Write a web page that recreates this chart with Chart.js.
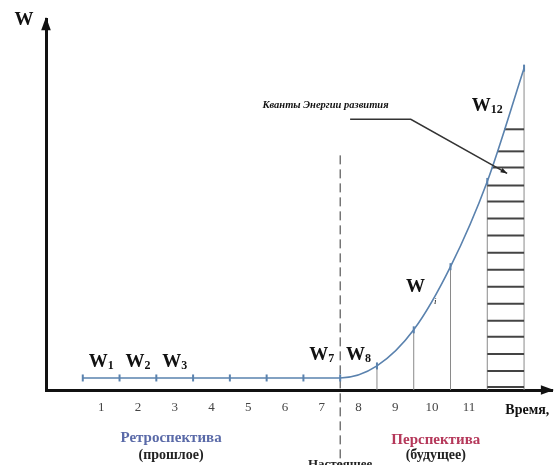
<!DOCTYPE html>
<html>
<head>
<meta charset="utf-8">
<script src="https://cdn.jsdelivr.net/npm/chart.js@4.4.0/dist/chart.umd.min.js"></script>
<style>
body{margin:0;background:#fff;}
</style>
</head>
<body>
<canvas id="graph" width="558" height="465"></canvas>
<script>
// time steps (points W1..W13), energy level
const steps = [0,1,2,3,4,5,6,7,8,9,10,11,12];
const energy = [1.2,1.2,1.2,1.2,1.2,1.2,1.2,1.2,2.4,6.0,12.3,20.8,32.1];
const tickLabels = ['1','2','3','4','5','6','7','8','9','10','11'];
// thin drop lines from these points to the axis
const dropSteps = [8,9,10,11,12];
// levels of the "energy quanta" hatch
const quanta = [0.3,1.9,3.6,5.3,6.9,8.6,10.3,12.0,13.7,15.4,17.1,18.8,20.4,22.2,23.8,26.0];

const serif = '"Liberation Serif", "Times New Roman", serif';
const blue = '#5a82ae';

function arrow(ctx, x1, y1, x2, y2, size){
    const a = Math.atan2(y2-y1, x2-x1);
    ctx.beginPath();
    ctx.moveTo(x2, y2);
    ctx.lineTo(x2 - size*Math.cos(a-0.35), y2 - size*Math.sin(a-0.35));
    ctx.lineTo(x2 - size*Math.cos(a+0.35), y2 - size*Math.sin(a+0.35));
    ctx.closePath();
    ctx.fill();
}

function drawW(ctx, sub, cx, cy){
    ctx.font = 'bold 19px ' + serif;
    const w = ctx.measureText('W').width;
    ctx.font = 'bold 12px ' + serif;
    const s = sub ? ctx.measureText(sub).width : 0;
    const left = cx - (w + s)/2;
    ctx.textAlign = 'left';
    ctx.textBaseline = 'middle';
    ctx.fillStyle = '#111';
    ctx.font = 'bold 19px ' + serif;
    ctx.fillText('W', left, cy);
    if (sub){
        ctx.font = 'bold 12px ' + serif;
        ctx.fillText(sub, left + w, cy + 4);
    }
}

const extras = {
    id: 'extras',
    beforeDatasetsDraw(chart){
        const ctx = chart.ctx;
        const X = v => chart.scales.x.getPixelForValue(v);
        const Y = v => chart.scales.y.getPixelForValue(v);
        ctx.save();
        // drop lines
        ctx.strokeStyle = '#8a8a8a';
        ctx.lineWidth = 1;
        dropSteps.forEach(i => {
            ctx.beginPath();
            ctx.moveTo(X(steps[i]), Y(energy[i]));
            ctx.lineTo(X(steps[i]), Y(0));
            ctx.stroke();
        });
        // hatch of quanta between steps 11 and 12
        const x11 = X(steps[11]), y11 = Y(energy[11]);
        const x12 = X(steps[12]), y12 = Y(energy[12]);
        ctx.strokeStyle = '#444';
        ctx.lineWidth = 2;
        quanta.forEach(q => {
            const y = Y(q);
            let xl = x11;
            if (y < y11) xl = x11 + (x12 - x11) * (y11 - y) / (y11 - y12);
            ctx.beginPath();
            ctx.moveTo(xl, y);
            ctx.lineTo(x12, y);
            ctx.stroke();
        });
        // the "present" dashed line
        ctx.strokeStyle = '#333';
        ctx.lineWidth = 1;
        ctx.setLineDash([9,5]);
        ctx.beginPath();
        ctx.moveTo(X(7), Y(23.4));
        ctx.lineTo(X(7), chart.height);
        ctx.stroke();
        ctx.restore();
    },
    afterDraw(chart){
        const ctx = chart.ctx;
        const X = v => chart.scales.x.getPixelForValue(v);
        const Y = v => chart.scales.y.getPixelForValue(v);
        const a = chart.chartArea;
        ctx.save();
        ctx.fillStyle = '#111';
        // axis arrows
        arrow(ctx, a.left, a.top + 20, a.left, a.top - 2, 14);
        arrow(ctx, a.right - 20, a.bottom, a.right + 2, a.bottom, 14);

        // leader for the quanta caption
        ctx.strokeStyle = '#333';
        ctx.lineWidth = 1.5;
        ctx.beginPath();
        ctx.moveTo(X(7.27), Y(27.0));
        ctx.lineTo(X(8.92), Y(27.0));
        ctx.lineTo(X(11.54), Y(21.6));
        ctx.stroke();
        ctx.fillStyle = '#222';
        arrow(ctx, X(11.1), Y(22.5), X(11.54), Y(21.6), 7);

        ctx.fillStyle = '#111';
        ctx.font = 'italic bold 10.5px ' + serif;
        ctx.textAlign = 'center';
        ctx.textBaseline = 'middle';
        ctx.fillText('Кванты Энергии развития', X(6.6), Y(28.4));

        // axis names
        ctx.font = 'bold 19px ' + serif;
        ctx.fillText('W', X(-1.6), Y(36.9));
        ctx.font = 'bold 14px ' + serif;
        ctx.textAlign = 'left';
        ctx.fillText('Время,', X(11.49), Y(-2.0));

        // point captions
        drawW(ctx, '1', X(0.5), Y(2.8));
        drawW(ctx, '2', X(1.5), Y(2.8));
        drawW(ctx, '3', X(2.5), Y(2.8));
        drawW(ctx, '7', X(6.5), Y(3.5));
        drawW(ctx, '8', X(7.5), Y(3.5));
        drawW(ctx, '12', X(11.0), Y(28.3));
        drawW(ctx, '', X(9.05), Y(10.3));
        ctx.font = 'italic 9px ' + serif;
        ctx.fillText('i', X(9.55), Y(8.8));

        // past / future / present
        ctx.textAlign = 'center';
        ctx.font = 'bold 15px ' + serif;
        ctx.fillStyle = '#5a6aa8';
        ctx.fillText('Ретроспектива', X(2.4), Y(-4.8));
        ctx.fillStyle = '#b5385a';
        ctx.fillText('Перспектива', X(9.6), Y(-5.0));
        ctx.fillStyle = '#222';
        ctx.font = 'bold 14px ' + serif;
        ctx.fillText('(прошлое)', X(2.4), Y(-6.5));
        ctx.fillText('(будущее)', X(9.6), Y(-6.5));
        ctx.font = 'bold 13px ' + serif;
        ctx.fillText('Настоящее', X(7), Y(-7.4));
        ctx.restore();
    }
};

new Chart(document.getElementById('graph'), {
    type: 'line',
    data: {
        datasets: [{
            data: steps.map((s, i) => ({x: s, y: energy[i]})),
            borderColor: blue,
            backgroundColor: blue,
            borderWidth: 1.6,
            pointStyle: 'line',
            rotation: 90,
            pointRadius: 3.5,
            pointBorderWidth: 2,
            pointBorderColor: blue,
            cubicInterpolationMode: 'monotone',
            clip: false
        }]
    },
    options: {
        responsive: false,
        animation: false,
        layout: {padding: {top: 19, right: 3, left: 0, bottom: 0}},
        plugins: {legend: {display: false}, tooltip: {enabled: false}},
        scales: {
            x: {
                type: 'linear',
                min: -1,
                max: 12.76,
                grid: {display: false, drawTicks: false},
                border: {display: true, color: '#111', width: 3},
                afterBuildTicks: s => { s.ticks = tickLabels.map((l, i) => ({value: i + 0.5})); },
                afterFit: s => { s.height = 75; },
                ticks: {
                    autoSkip: false,
                    maxRotation: 0,
                    padding: 10,
                    color: '#444',
                    font: {family: serif, size: 13},
                    callback: (v, i) => tickLabels[i]
                }
            },
            y: {
                min: 0,
                max: 37,
                grid: {display: false, drawTicks: false},
                border: {display: true, color: '#111', width: 3},
                ticks: {display: false},
                afterFit: s => { s.width = 46; }
            }
        }
    },
    plugins: [extras]
});
</script>
</body>
</html>
